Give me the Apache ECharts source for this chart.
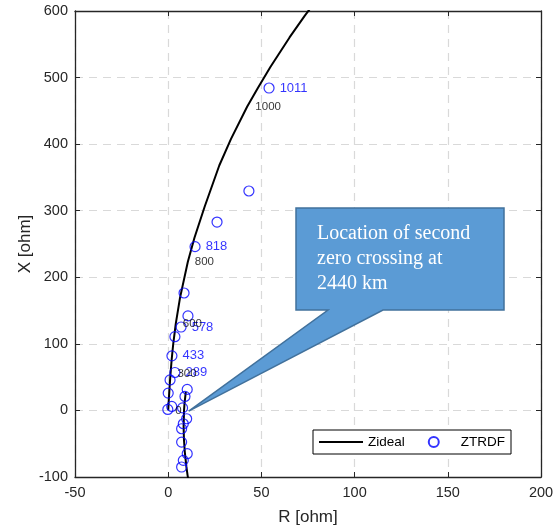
<!DOCTYPE html>
<html>
<head>
<meta charset="utf-8">
<script src="https://cdn.jsdelivr.net/npm/echarts@6/dist/echarts.min.js"></script>
<style>
  html, body { margin: 0; padding: 0; background: #ffffff; }
  #chart { width: 559px; height: 531px; }
</style>
</head>
<body>
<div id="chart"></div>
<script>
// Ideal line input impedance, branch before the quarter-wave pole
const zidealUpperR = [0, 0.35, 0.75, 1.22, 1.84, 2.72, 4.07, 6.33, 10.51, 14.05, 19.5, 27.4, 33.7, 42.4, 48.1, 54.9, 65.1, 73.3, 83.2];
const zidealUpperX = [0, 17.4, 35.3, 54.5, 75.8, 100.5, 130.5, 169.1, 223.0, 259.1, 305.6, 367.9, 407.9, 456.5, 484.5, 516.3, 560.3, 593.1, 629.7];
// Branch after the pole, up through the second zero crossing
const zidealLowerR = [11.2, 10.4, 9.77, 8.91, 8.43, 8.27, 8.49, 8.75, 9.44];
const zidealLowerX = [-111.3, -97.5, -84.9, -62.5, -42.6, -24.3, 0, 10.3, 27.9];

// Ideal impedance at selected distances along the line (km)
const zidealMarkR = [0, 1.22, 4.07, 10.51, 43.0];
const zidealMarkX = [0, 54.5, 130.5, 223.0, 456.5];
const zidealMarkKm = ['0', '300', '600', '800', '1000'];

// ZTRDF impedance estimates, with the fault distance (km) shown for some of them
const ztrdfR = [54.1, 43.3, 26.2, 14.4, 8.5, 10.6, 6.9, 3.6, 2.0, 3.6, 1.0, 0.0, -0.2, 1.9, 10.2, 9.0, 7.7, 9.9, 8.1, 7.2, 7.2, 10.2, 8.1, 7.2];
const ztrdfX = [484.3, 329.6, 283.0, 246.0, 176.4, 142.0, 125.3, 110.8, 82.0, 57.0, 45.8, 26.0, 1.5, 6.0, 31.6, 21.0, 3.8, -12.5, -20.0, -27.5, -47.6, -65.0, -75.0, -85.0];
const ztrdfKm = ['1011', '', '', '818', '', '', '578', '', '433', '289', '', '', '', '', '', '', '', '', '', '', '', '', '', ''];

// Axis ranges
const rRange = { min: -50, max: 200, step: 50 };
const xRange = { min: -100, max: 600, step: 100 };

// Point the callout arrow at (R, X)
const calloutTarget = [11, -1];
const calloutText = 'Location of second\nzero crossing at\n2440 km';

const FONT = '"Liberation Sans", Arial, sans-serif';
const AXIS_COLOR = '#262626';

const zip = (a, b) => a.map((v, i) => [v, b[i]]);

const chart = echarts.init(document.getElementById('chart'), null, { renderer: 'canvas' });

function baseAxis(range, extra) {
  return Object.assign({
    type: 'value',
    min: range.min,
    max: range.max,
    interval: range.step,
    axisLine: { show: true, onZero: false, lineStyle: { color: AXIS_COLOR, width: 1.3 } },
    axisTick: { show: true, inside: true, length: 5, lineStyle: { color: AXIS_COLOR, width: 1 } },
    splitLine: { show: false },
    axisLabel: { show: false }
  }, extra);
}

const gridLine = { show: true, lineStyle: { color: '#d9d9d9', width: 1.2, type: [8, 6] } };

const option = {
  animation: false,
  backgroundColor: '#ffffff',
  textStyle: { fontFamily: FONT },
  grid: { left: 75, right: 18, top: 11, bottom: 54, containLabel: false },
  xAxis: [
    baseAxis(rRange, {
      position: 'bottom',
      name: 'R [ohm]',
      nameLocation: 'middle',
      nameGap: 32,
      nameMoveOverlap: false,
      nameTextStyle: { color: AXIS_COLOR, fontSize: 17, fontFamily: FONT },
      axisLabel: { show: true, color: AXIS_COLOR, fontSize: 14.5, margin: 8, fontFamily: FONT },
      splitLine: gridLine
    }),
    baseAxis(rRange, { position: 'top' })
  ],
  yAxis: [
    baseAxis(xRange, {
      position: 'left',
      name: 'X [ohm]',
      nameLocation: 'middle',
      nameGap: 41,
      nameRotate: 90,
      nameMoveOverlap: false,
      nameTextStyle: { color: AXIS_COLOR, fontSize: 17, fontFamily: FONT },
      axisLabel: { show: true, color: AXIS_COLOR, fontSize: 14.5, margin: 7, fontFamily: FONT },
      splitLine: gridLine
    }),
    baseAxis(xRange, { position: 'right' })
  ],
  legend: {
    left: 313,
    top: 430,
    orient: 'horizontal',
    backgroundColor: '#ffffff',
    borderColor: '#000000',
    borderWidth: 1,
    borderRadius: 0,
    padding: [5, 6, 5, 5],
    itemWidth: 44,
    itemHeight: 10,
    itemGap: 6,
    textStyle: { color: '#000000', fontSize: 13.5, fontFamily: FONT },
    data: [
      { name: 'Zideal', itemStyle: { color: 'rgba(0,0,0,0)', borderColor: 'rgba(0,0,0,0)', borderWidth: 0 } },
      { name: 'ZTRDF', icon: 'path://M0,0 L0,0 M44,10 L44,10 M17,5 A5,5 0 1,1 27,5 A5,5 0 1,1 17,5 Z' }
    ]
  },
  series: [
    {
      name: 'Zideal',
      type: 'line',
      data: zip(zidealUpperR, zidealUpperX),
      symbol: 'none',
      lineStyle: { color: '#000000', width: 2 },
      itemStyle: { color: '#000000' },
      clip: true,
      z: 2
    },
    {
      name: 'Zideal',
      type: 'line',
      data: zip(zidealLowerR, zidealLowerX),
      symbol: 'none',
      lineStyle: { color: '#000000', width: 2 },
      itemStyle: { color: '#000000' },
      clip: true,
      z: 2
    },
    {
      name: 'ZTRDF',
      type: 'scatter',
      data: ztrdfR.map((r, i) => ({ value: [r, ztrdfX[i]], km: ztrdfKm[i] })),
      symbol: 'circle',
      symbolSize: 10,
      itemStyle: { color: 'rgba(0,0,0,0)', borderColor: '#0000ff', borderWidth: 1.2 },
      label: {
        show: true,
        position: 'right',
        distance: 5,
        color: '#0000ff',
        fontSize: 13,
        fontFamily: FONT,
        formatter: p => p.data.km
      },
      emphasis: { disabled: true },
      clip: true,
      z: 3
    },
    {
      name: 'Zideal distance',
      type: 'scatter',
      data: zidealMarkR.map((r, i) => ({ value: [r, zidealMarkX[i]], km: zidealMarkKm[i] })),
      symbol: 'circle',
      symbolSize: 0,
      itemStyle: { color: 'rgba(0,0,0,0)' },
      label: {
        show: true,
        position: 'right',
        distance: 7,
        color: '#000000',
        fontSize: 11.5,
        fontFamily: FONT,
        formatter: p => p.data.km
      },
      emphasis: { disabled: true },
      z: 4
    }
  ]
};

chart.setOption(option);

// Callout box with a tail pointing at the zero crossing
const tip = chart.convertToPixel({ xAxisIndex: 0, yAxisIndex: 0 }, calloutTarget);
const box = { x0: 296, y0: 208, x1: 504, y1: 310 };
const tailBase = [328, 383];

chart.setOption({
  graphic: [
    {
      type: 'polygon',
      z: 100,
      shape: {
        points: [
          [box.x0, box.y0], [box.x1, box.y0], [box.x1, box.y1],
          [tailBase[1], box.y1], [tip[0], tip[1]], [tailBase[0], box.y1],
          [box.x0, box.y1]
        ]
      },
      style: { fill: '#5b9bd5', stroke: '#41719c', lineWidth: 1.5, lineJoin: 'miter' }
    },
    {
      type: 'text',
      z: 101,
      x: 317,
      y: 221,
      style: {
        text: calloutText,
        fill: '#ffffff',
        font: '20px "Liberation Serif", "Times New Roman", serif',
        lineHeight: 25,
        verticalAlign: 'top',
        align: 'left'
      }
    }
  ]
});
</script>
</body>
</html>
